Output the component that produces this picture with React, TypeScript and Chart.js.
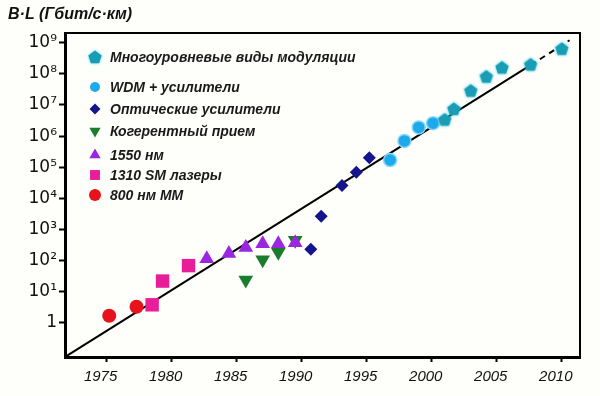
import React, { useEffect, useRef } from 'react';
import { Chart, registerables } from 'chart.js';
import { drawPoint } from 'chart.js/helpers';

Chart.register(...registerables);

const axisTitle = 'B·L (Гбит/с·км)';
const xTickYears = [1975, 1980, 1985, 1990, 1995, 2000, 2005, 2010];
const yTickValues = [1, 10, 100, 1e3, 1e4, 1e5, 1e6, 1e7, 1e8, 1e9];
const yTickLabels = ['1', '10¹', '10²', '10³', '10⁴', '10⁵', '10⁶', '10⁷', '10⁸', '10⁹'];

const seriesNames = [
  'Многоуровневые виды модуляции',
  'WDM + усилители',
  'Оптические усилители',
  'Когерентный прием',
  '1550 нм',
  '1310 SM лазеры',
  '800 нм MM',
];

const multiYears = [2001.0, 2001.7, 2003.0, 2004.2, 2005.4, 2007.6, 2010.0];
const multiValues = [3.4e6, 7.5e6, 2.9e7, 8.2e7, 1.6e8, 2.0e8, 6.4e8];
const wdmYears = [1996.8, 1997.9, 1999.0, 2000.1];
const wdmValues = [1.7e5, 7e5, 1.9e6, 2.6e6];
const opticalYears = [1990.7, 1991.5, 1993.1, 1994.2, 1995.2];
const opticalValues = [230, 2650, 26000, 69000, 200000];
const coherentYears = [1985.7, 1987.0, 1988.2, 1989.5];
const coherentValues = [24, 107, 187, 450];
const nm1550Years = [1982.7, 1984.4, 1985.7, 1987.0, 1988.2, 1989.5];
const nm1550Values = [115, 170, 265, 350, 350, 375];
const sm1310Years = [1978.5, 1979.3, 1981.3];
const sm1310Values = [3.8, 22, 69];
const mm800Years = [1975.2, 1977.3];
const mm800Values = [1.7, 3.3];

const trendYears = [1971.8, 2007.6];
const trendValues = [0.08, 1.9e8];
const trendExtYears = [2007.6, 2010.6];
const trendExtValues = [1.9e8, 1.2e9];

const toPts = (xs: number[], ys: number[]) => xs.map((x, i) => ({ x, y: ys[i] }));

function makePentagon(): HTMLCanvasElement {
  const c = document.createElement('canvas');
  c.width = 18;
  c.height = 18;
  const g = c.getContext('2d')!;
  g.shadowColor = 'rgba(70,215,240,0.95)';
  g.shadowBlur = 3;
  g.fillStyle = '#1a9cb4';
  g.beginPath();
  for (let i = 0; i < 5; i++) {
    const a = -Math.PI / 2 + (i * 2 * Math.PI) / 5;
    const px = 9 + 7 * Math.cos(a);
    const py = 9.6 + 7 * Math.sin(a);
    if (i === 0) g.moveTo(px, py);
    else g.lineTo(px, py);
  }
  g.closePath();
  g.fill();
  return c;
}

const legendRowsY = [57, 87, 109, 131, 155, 175, 195];
const legendRadii = [7, 5, 5.5, 6.5, 6.5, 7, 6];

export default function App() {
  const ref = useRef<HTMLCanvasElement | null>(null);

  useEffect(() => {
    if (!ref.current) return;
    const pentagon = makePentagon();

    const bgPlugin = {
      id: 'bg',
      beforeDraw(chart: any) {
        const ctx = chart.ctx;
        ctx.save();
        ctx.fillStyle = '#fefefb';
        ctx.fillRect(0, 0, chart.width, chart.height);
        ctx.restore();
      },
    };

    const framePlugin = {
      id: 'frame',
      afterDraw(chart: any) {
        const { ctx, chartArea } = chart;
        ctx.save();
        ctx.strokeStyle = '#000';
        ctx.lineWidth = 2;
        ctx.beginPath();
        ctx.moveTo(chartArea.left, chartArea.top);
        ctx.lineTo(chartArea.right, chartArea.top);
        ctx.lineTo(chartArea.right, chartArea.bottom);
        ctx.stroke();
        // title
        ctx.fillStyle = '#111';
        ctx.font = 'italic bold 16px "Liberation Sans", Arial, sans-serif';
        ctx.textBaseline = 'middle';
        ctx.textAlign = 'left';
        ctx.fillText(axisTitle, 8, 15);
        // legend
        const ds = chart.data.datasets;
        for (let i = 0; i < seriesNames.length; i++) {
          const d = ds[i];
          const y = legendRowsY[i];
          ctx.fillStyle = d.backgroundColor;
          ctx.strokeStyle = d.backgroundColor;
          drawPoint(ctx, { pointStyle: d.pointStyle, rotation: d.rotation || 0, radius: legendRadii[i], borderWidth: 0 }, 95, y);
          ctx.fillStyle = '#1a1a1a';
          ctx.font = 'italic bold 14px "Liberation Sans", Arial, sans-serif';
          ctx.textBaseline = 'middle';
          ctx.fillText(seriesNames[i], 110, y + 1);
        }
        ctx.restore();
      },
    };

    const chart = new Chart(ref.current, {
      type: 'scatter',
      data: {
        datasets: [
          { label: seriesNames[0], data: toPts(multiYears, multiValues), pointStyle: pentagon as any, pointRadius: 7, backgroundColor: '#1a9cb4', borderWidth: 0, order: 0 },
          { label: seriesNames[1], data: toPts(wdmYears, wdmValues), pointStyle: 'circle', pointRadius: 6.5, backgroundColor: '#1ea9ec', borderColor: '#86d8f6', borderWidth: 1.5, order: 0 },
          { label: seriesNames[2], data: toPts(opticalYears, opticalValues), pointStyle: 'rectRot', pointRadius: 6.5, backgroundColor: '#14148c', borderWidth: 0, order: 0 },
          { label: seriesNames[3], data: toPts(coherentYears, coherentValues), pointStyle: 'triangle', rotation: 180, pointRadius: 8.5, backgroundColor: '#1b7d2c', borderWidth: 0, order: 1 },
          { label: seriesNames[4], data: toPts(nm1550Years, nm1550Values), pointStyle: 'triangle', pointRadius: 8.5, backgroundColor: '#9a26e0', borderWidth: 0, order: 0 },
          { label: seriesNames[5], data: toPts(sm1310Years, sm1310Values), pointStyle: 'rect', pointRadius: 9.5, backgroundColor: '#e81e98', borderWidth: 0, order: 0 },
          { label: seriesNames[6], data: toPts(mm800Years, mm800Values), pointStyle: 'circle', pointRadius: 7, backgroundColor: '#e8121c', borderWidth: 0, order: 0 },
          { type: 'line', label: 'trend', data: toPts(trendYears, trendValues), borderColor: '#000', borderWidth: 2, pointRadius: 0, showLine: true, order: 10 } as any,
          { type: 'line', label: 'trend ext', data: toPts(trendExtYears, trendExtValues), borderColor: '#000', borderWidth: 2, borderDash: [6, 5], pointRadius: 0, showLine: true, order: 10 } as any,
        ] as any,
      },
      options: {
        responsive: false,
        animation: false,
        layout: { padding: { top: 33, right: 20, left: 0, bottom: 0 } },
        plugins: { legend: { display: false }, tooltip: { enabled: false }, title: { display: false } },
        scales: {
          x: {
            type: 'linear',
            min: 1971.8,
            max: 2011.4,
            afterBuildTicks: (s: any) => { s.ticks = xTickYears.map((v) => ({ value: v })); },
            afterFit: (s: any) => { s.height = 39; },
            ticks: {
              color: '#111',
              font: { family: '"Liberation Sans", Arial, sans-serif', size: 15, style: 'italic' },
              labelOffset: -6,
              padding: 6,
              maxRotation: 0,
              callback: (v: any) => String(v),
            },
            grid: { drawOnChartArea: false, drawTicks: true, tickLength: 5, tickColor: '#000', tickWidth: 2 },
            border: { display: true, color: '#000', width: 3 },
          },
          y: {
            type: 'logarithmic',
            min: 0.08,
            max: 2.05e9,
            afterBuildTicks: (s: any) => { s.ticks = yTickValues.map((v) => ({ value: v })); },
            afterFit: (s: any) => { s.width = 65; },
            ticks: {
              color: '#111',
              font: { family: '"DejaVu Sans", sans-serif', size: 17 },
              padding: 2,
              callback: (v: any) => {
                const i = yTickValues.indexOf(Number(v));
                return i >= 0 ? yTickLabels[i] : '';
              },
            },
            grid: { drawOnChartArea: false, drawTicks: true, tickLength: 6, tickColor: '#000', tickWidth: 2 },
            border: { display: true, color: '#000', width: 3 },
          },
        },
      } as any,
      plugins: [bgPlugin, framePlugin],
    });
    return () => chart.destroy();
  }, []);

  return (
    <div style={{ position: 'absolute', left: 0, top: 0, width: 600, height: 396 }}>
      <canvas ref={ref} width={600} height={396} />
    </div>
  );
}
